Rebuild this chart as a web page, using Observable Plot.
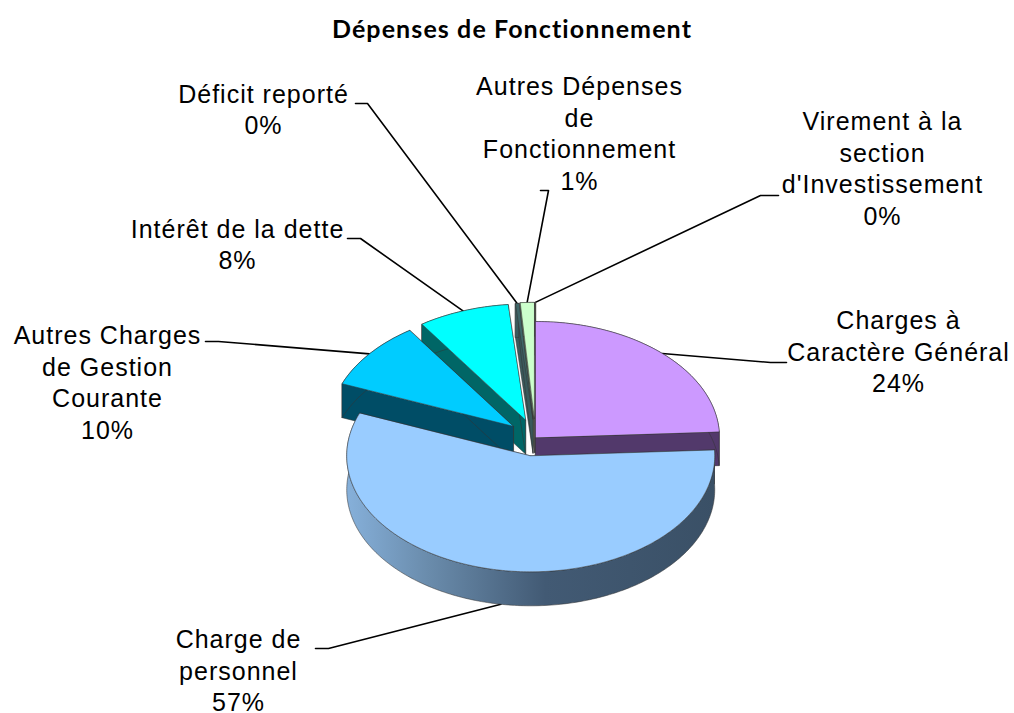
<!DOCTYPE html>
<html lang="fr">
<head>
<meta charset="utf-8">
<script src="https://cdn.jsdelivr.net/npm/d3@7"></script>
<script src="https://cdn.jsdelivr.net/npm/@observablehq/plot@0.6"></script>
<style>
  html, body { margin: 0; padding: 0; background: #fff; }
  #title { height: 56px; text-align: center; font: bold 25px/56px Lato, "Open Sans", sans-serif; letter-spacing: 1.1px; color: #000; width: 1024px; }
  svg { display: block; }
</style>
</head>
<body>
<div id="title">Dépenses de Fonctionnement</div>
<div id="chart"></div>
<script>
// ---- data (clockwise from 12 o'clock)
const categories = [
  "Charges à\nCaractère Général",
  "Charge de\npersonnel",
  "Autres Charges\nde Gestion\nCourante",
  "Intérêt de la dette",
  "Déficit reporté",
  "Autres Dépenses\nde\nFonctionnement",
  "Virement à la\nsection\nd'Investissement"
];
const shares = [24.2, 56.8, 9.5, 8.0, 0.3, 1.2, 0.02];

// ---- styling and layout
const topColors  = ["#cc99ff", "#99ccff", "#00ccff", "#00ffff", "#3f6668", "#ccffcc", "#ffffcc"];
const sideColors = ["#52396b", "url(#rimBlue)", "#004d66", "#006666", "#3a5a5c", "#667f66", "#7f7f66"];
const explode    = [0, 0.16, 0.155, 0.16, 0.16, 0.165, 0.165];
const labelX     = [898, 238, 107, 237, 263, 579, 882];
const labelY     = [350, 669, 381, 243, 108, 132, 167];
const kneeX0     = [786, 315, 205, 347, 355, 540, 778];   // end of the stub near the label
const kneeX1     = [770, 328, 218, 360, 367, 548, 760];   // where the stub turns
const kneeY      = [362, 648, 341, 238, 103, 190, 195];
const drawOrder  = [6, 5, 4, 3, 2, 0, 1];                 // back to front
const pie = {cx: 535, cy: 437, rx: 184, ry: 116, depth: 34};
const titleHeight = 56;

// ---- geometry computed from the shares
const total = d3.sum(shares);
let running = 0;
const slices = shares.map((v, i) => {
  const a0 = running / total * 2 * Math.PI;
  running += v;
  const a1 = running / total * 2 * Math.PI;
  const mid = (a0 + a1) / 2;
  return {
    i, a0, a1, mid,
    cx: pie.cx + explode[i] * pie.rx * Math.sin(mid),
    cy: pie.cy - explode[i] * pie.ry * Math.cos(mid)
  };
});
const rimPoint = (s, a, dz = 0) => ({
  x: s.cx + pie.rx * Math.sin(a),
  y: s.cy - pie.ry * Math.cos(a) + dz
});
const arc = (s, dz = 0) => {
  const n = Math.max(2, Math.ceil((s.a1 - s.a0) * 60));
  return d3.range(n + 1).map(k => rimPoint(s, s.a0 + (s.a1 - s.a0) * k / n, dz));
};
const apex = (s, dz = 0) => ({x: s.cx, y: s.cy + dz});
const radialFace = (s, a) => [apex(s), rimPoint(s, a), rimPoint(s, a, pie.depth), apex(s, pie.depth)];

const face = (pts, fill) => Plot.line(pts, {
  x: "x", y: "y", curve: "linear-closed",
  fill, stroke: "#333", strokeWidth: 0.7, strokeOpacity: 0.75
});

const sliceMarks = drawOrder.flatMap(i => {
  const s = slices[i];
  const flat = sideColors[i] === "url(#rimBlue)" ? "#3f566e" : sideColors[i];
  return [
    face(radialFace(s, s.a0), flat),
    face(radialFace(s, s.a1), flat),
    face([...arc(s), ...arc(s, pie.depth).reverse()], sideColors[i]),
    face([apex(s), ...arc(s)], topColors[i])
  ];
});

// ---- leader lines end on the slice's rim at its middle angle
const leaders = slices.flatMap((s, i) => {
  const front = Math.cos(s.mid) < -0.5;
  const end = rimPoint(s, s.mid, front ? pie.depth : 0);
  return [
    {i, x: kneeX0[i], y: kneeY[i]},
    {i, x: kneeX1[i], y: kneeY[i]},
    {i, x: end.x, y: end.y}
  ];
});

const labels = categories.map((c, i) => ({
  text: `${c}\n${Math.round(shares[i])}%`,
  x: labelX[i],
  y: labelY[i]
}));

const defs = () => {
  const d = d3.create("svg:defs");
  const g = d.append("linearGradient").attr("id", "rimBlue")
    .attr("x1", "0%").attr("x2", "100%").attr("y1", "0%").attr("y2", "0%");
  [["0%", "#86b0da"], ["22%", "#6a8cac"], ["54%", "#425a74"], ["100%", "#3a5066"]]
    .forEach(([o, c]) => g.append("stop").attr("offset", o).attr("stop-color", c));
  return d.node();
};

const chart = Plot.plot({
  width: 1014,
  height: 713 - titleHeight,
  margin: 0,
  style: {letterSpacing: "1px", background: "transparent"},
  x: {domain: [0, 1014], range: [0, 1014], axis: null},
  y: {domain: [titleHeight, 713], range: [0, 713 - titleHeight], axis: null},
  marks: [
    defs,
    Plot.line(leaders, {x: "x", y: "y", z: "i", stroke: "#000", strokeWidth: 1.6}),
    ...sliceMarks,
    Plot.text(labels, {
      x: "x", y: "y", text: "text",
      fontSize: 25, lineHeight: 1.26, fill: "#000",
      fontFamily: "Liberation Sans, Arial, sans-serif", textAnchor: "middle"
    })
  ]
});
document.getElementById("chart").appendChild(chart);
</script>
</body>
</html>
